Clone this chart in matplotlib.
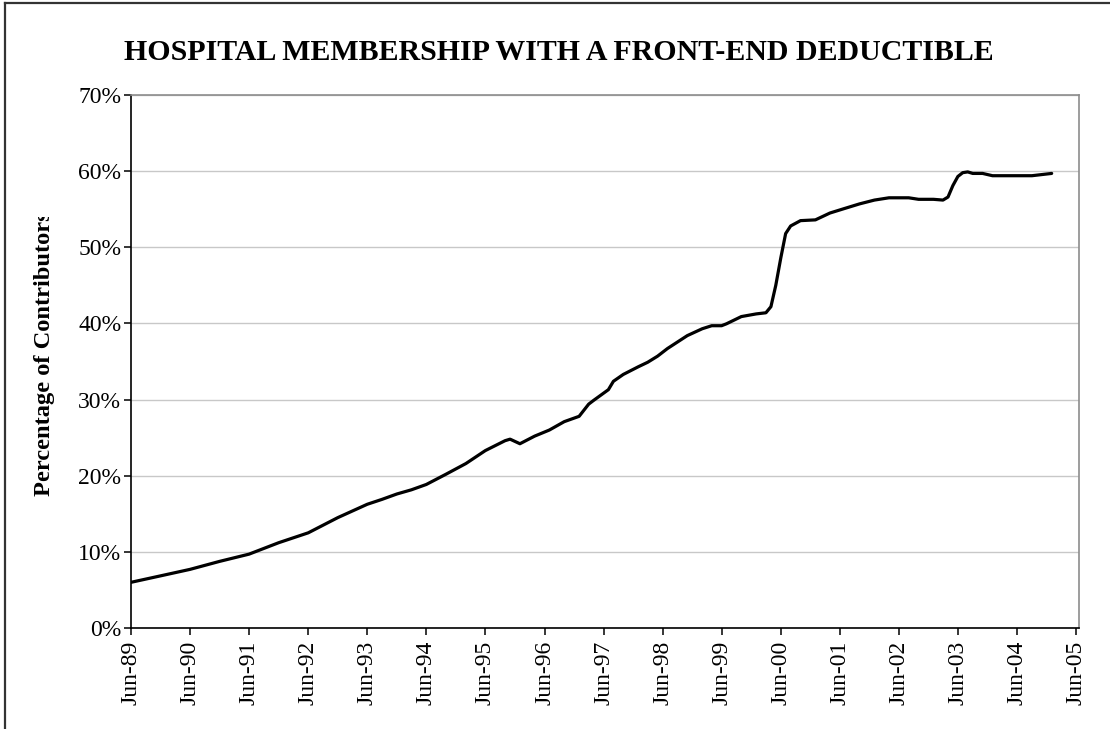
import matplotlib
matplotlib.use("Agg")
import matplotlib.pyplot as plt
from matplotlib.lines import Line2D
from matplotlib.transforms import Bbox
import pandas as pd

# ---- data (month offset from Jun-1989, percentage of contributors) ----
month_offsets = [0, 6, 12, 18, 24, 30, 36, 42, 48, 51, 54, 57, 60, 64, 68, 72,
                 76, 77, 79, 82, 85, 88, 91, 93, 94, 97, 98, 100, 103, 105,
                 107, 109, 113, 116, 118, 120, 121, 124, 127, 129, 130, 131,
                 132, 133, 134, 136, 139, 142, 145, 148, 151, 154, 158, 160,
                 163, 165, 166, 167, 168, 169, 170, 171, 173, 175, 183, 187]
pct_values = [6.0, 6.85, 7.7, 8.75, 9.7, 11.2, 12.5, 14.5, 16.25, 16.9, 17.6,
              18.15, 18.85, 20.2, 21.6, 23.3, 24.6, 24.8, 24.2, 25.2, 26.0,
              27.1, 27.8, 29.4, 29.9, 31.3, 32.4, 33.3, 34.3, 34.9, 35.7, 36.7,
              38.4, 39.3, 39.7, 39.7, 39.95, 40.9, 41.25, 41.4, 42.2, 45.0,
              48.6, 51.8, 52.8, 53.5, 53.6, 54.5, 55.1, 55.7, 56.2, 56.5, 56.5,
              56.3, 56.3, 56.2, 56.6, 58.1, 59.3, 59.8, 59.9, 59.7, 59.7, 59.4,
              59.4, 59.7]
tick_years = list(range(1989, 2006))
tick_labels = ["Jun-%02d" % (y % 100) for y in tick_years]
y_ticks = [0, 10, 20, 30, 40, 50, 60, 70]
y_tick_labels = ["%d%%" % v for v in y_ticks]
title_text = "HOSPITAL MEMBERSHIP WITH A FRONT-END DEDUCTIBLE"
ylabel_text = "Percentage of Contributors"

start = pd.Timestamp("1989-06-01")
dates = [start + pd.DateOffset(months=m) for m in month_offsets]
tick_dates = [pd.Timestamp("%d-06-01" % y) for y in tick_years]

plt.rcParams["font.family"] = ["Liberation Serif", "DejaVu Serif"]

W, H = 1110, 729
fig = plt.figure(figsize=(W / 100, H / 100), dpi=100)
fig.patch.set_facecolor("white")

L, R, T, B = 131, 1079, 95, 628
ax = fig.add_axes([L / W, 1 - B / H, (R - L) / W, (B - T) / H])

ax.plot(dates, pct_values, color="black", lw=2.3, solid_joinstyle="round",
        solid_capstyle="round", zorder=3)

ax.set_ylim(0, 70)
ax.set_yticks(y_ticks)
ax.set_yticklabels(y_tick_labels, fontsize=17)
ax.set_xlim(tick_dates[0], tick_dates[-1] + pd.Timedelta(days=18))
ax.set_xticks(tick_dates)
ax.set_xticklabels(tick_labels, rotation=90, fontsize=17)

ax.grid(axis="y", color="#c8c8c8", lw=1.0, zorder=0)
ax.set_axisbelow(True)
for s in ("left", "bottom"):
    ax.spines[s].set_color("black")
    ax.spines[s].set_linewidth(1.2)
for s in ("top", "right"):
    ax.spines[s].set_color("#8c8c8c")
    ax.spines[s].set_linewidth(1.2)
ax.tick_params(axis="both", direction="out", length=5, width=1.1, color="black")
ax.tick_params(axis="y", pad=2)
ax.tick_params(axis="x", pad=4)

# title
fig.text(559 / W, 1 - 53 / H, title_text, ha="center", va="center",
         fontsize=21.5, fontweight="bold")

# y-axis label (clipped at top as in the reference)
yl = fig.text(45 / W, 1 - 354 / H, ylabel_text, ha="center", va="center",
              rotation=90, fontsize=17.6, fontweight="bold")
yl.set_clip_on(True)
yl.set_clip_box(Bbox.from_extents(0, 0, 130, H - 217))

# outer frame (left and top edges visible)
fig.add_artist(Line2D([5 / W, 5 / W], [0, 1 - 3 / H], transform=fig.transFigure,
                      color="#333333", lw=1.6))
fig.add_artist(Line2D([5 / W, 1], [1 - 3 / H, 1 - 3 / H], transform=fig.transFigure,
                      color="#333333", lw=1.6))

fig.savefig("out.png", dpi=100)
